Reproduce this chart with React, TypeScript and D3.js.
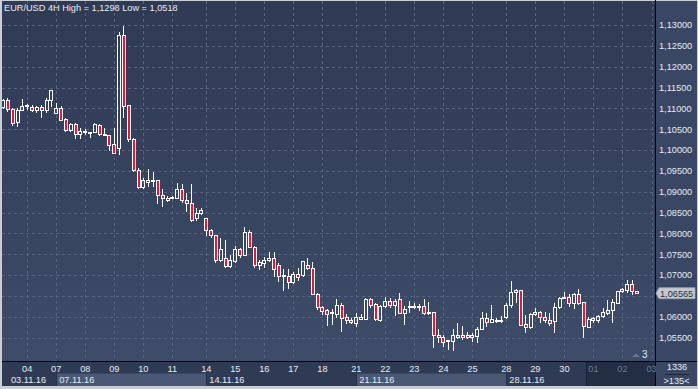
import React from "react";
import * as d3 from "d3";

// ---- data (EUR/USD 4H candles) ----
const opens = [
  1.1102, 1.1118, 1.1098, 1.1066, 1.1095, 1.1106, 1.1103, 1.1095, 1.1102, 1.1094,
  1.1118, 1.1088, 1.11, 1.1074, 1.1046, 1.1062, 1.1038, 1.1044, 1.1042, 1.1042,
  1.106, 1.1038, 1.1034, 1.1014, 1.1004, 1.1276, 1.1106, 1.1026, 1.0952, 1.091,
  1.0923, 1.0926, 1.0926, 1.0892, 1.0878, 1.0884, 1.0884, 1.0906, 1.0878, 1.0872,
  1.0836, 1.0848, 1.0836, 1.0808, 1.0796, 1.0734, 1.074, 1.072, 1.0732, 1.0762,
  1.0748, 1.0802, 1.0766, 1.0724, 1.0728, 1.0736, 1.074, 1.0724, 1.0698, 1.0696,
  1.0682, 1.0702, 1.0698, 1.0724, 1.0716, 1.0654, 1.0622, 1.0614, 1.0609, 1.0606,
  1.0628, 1.0598, 1.0592, 1.0584, 1.0594, 1.0594, 1.0642, 1.063, 1.0592, 1.0624,
  1.0636, 1.0626, 1.0642, 1.0608, 1.0624, 1.0624, 1.0624, 1.0624, 1.061, 1.061,
  1.0556, 1.055, 1.0542, 1.054, 1.055, 1.0556, 1.0556, 1.055, 1.0552, 1.057,
  1.0596, 1.0586, 1.059, 1.059, 1.0598, 1.0628, 1.0658, 1.0662, 1.0582, 1.0574,
  1.0606, 1.061, 1.0598, 1.059, 1.0588, 1.0622, 1.0643, 1.0646, 1.0632, 1.0654,
  1.0634, 1.0574, 1.0596, 1.059, 1.06, 1.0608, 1.0614, 1.0632, 1.066, 1.0664,
  1.0678, 1.066,
];
const highs = [
  1.1122, 1.1126, 1.1102, 1.11, 1.1122, 1.111, 1.1108, 1.1106, 1.1108, 1.1124,
  1.1144, 1.1113, 1.1106, 1.1078, 1.1066, 1.1064, 1.1052, 1.105, 1.1043, 1.1066,
  1.1062, 1.1054, 1.1036, 1.1052, 1.1284, 1.1298, 1.1108, 1.1029, 1.0957, 1.0934,
  1.0954, 1.0948, 1.0928, 1.0906, 1.089, 1.089, 1.0922, 1.0918, 1.0896, 1.0918,
  1.0862, 1.0862, 1.0838, 1.081, 1.0796, 1.0788, 1.0784, 1.0748, 1.077, 1.0764,
  1.0816, 1.0808, 1.077, 1.0736, 1.0744, 1.0756, 1.0756, 1.0728, 1.0714, 1.0714,
  1.0708, 1.0716, 1.0734, 1.0742, 1.0732, 1.0656, 1.0626, 1.0618, 1.0618, 1.0642,
  1.0634, 1.0606, 1.0596, 1.0608, 1.0606, 1.0644, 1.0644, 1.0632, 1.0628, 1.0648,
  1.0644, 1.0642, 1.0656, 1.0626, 1.0638, 1.0632, 1.063, 1.0642, 1.0636, 1.0612,
  1.057, 1.0556, 1.0542, 1.057, 1.0584, 1.0578, 1.0564, 1.056, 1.0576, 1.0612,
  1.0608, 1.0628, 1.0598, 1.0602, 1.0632, 1.0686, 1.0666, 1.0664, 1.0604, 1.0608,
  1.062, 1.0614, 1.0612, 1.0608, 1.0634, 1.0648, 1.066, 1.0654, 1.0656, 1.0666,
  1.0636, 1.06, 1.06, 1.0604, 1.062, 1.064, 1.0642, 1.0662, 1.0668, 1.0688,
  1.0688, 1.0662,
];
const lows = [
  1.1098, 1.1092, 1.1058, 1.1056, 1.1095, 1.1096, 1.1091, 1.1088, 1.1078, 1.1088,
  1.1104, 1.1086, 1.107, 1.1044, 1.1044, 1.1026, 1.1026, 1.1036, 1.1028, 1.104,
  1.1034, 1.1034, 1.0998, 1.099, 1.0988, 1.1078, 1.102, 1.0947, 1.0906, 1.0906,
  1.0912, 1.0912, 1.087, 1.0864, 1.0876, 1.0882, 1.0882, 1.0874, 1.0852, 1.0828,
  1.083, 1.0844, 1.0794, 1.079, 1.0728, 1.0732, 1.0717, 1.0717, 1.073, 1.0742,
  1.0746, 1.0764, 1.0716, 1.0712, 1.0716, 1.0732, 1.0696, 1.0684, 1.0662, 1.0666,
  1.0678, 1.0686, 1.0696, 1.0712, 1.0652, 1.0616, 1.0604, 1.0578, 1.058, 1.0596,
  1.0564, 1.0582, 1.0582, 1.0576, 1.0592, 1.0592, 1.0622, 1.059, 1.0588, 1.062,
  1.062, 1.0602, 1.0606, 1.058, 1.061, 1.0618, 1.0614, 1.0604, 1.0604, 1.0524,
  1.0536, 1.0528, 1.052, 1.0518, 1.0546, 1.0544, 1.0546, 1.054, 1.0536, 1.0568,
  1.0576, 1.0584, 1.0584, 1.0584, 1.0594, 1.062, 1.0632, 1.0578, 1.056, 1.057,
  1.0602, 1.0585, 1.0584, 1.0578, 1.0562, 1.0618, 1.0642, 1.0624, 1.0618, 1.0628,
  1.055, 1.0572, 1.0584, 1.0586, 1.0596, 1.0604, 1.0584, 1.063, 1.0656, 1.0658,
  1.0652, 1.0654,
];
const closes = [
  1.1118, 1.1098, 1.1064, 1.1096, 1.1104, 1.1105, 1.1095, 1.1102, 1.1095, 1.112,
  1.1142, 1.11, 1.1072, 1.1048, 1.1062, 1.1038, 1.1044, 1.1045, 1.1042, 1.1062,
  1.1038, 1.1034, 1.1012, 1.0992, 1.1276, 1.1104, 1.1026, 1.0952, 1.091, 1.0926,
  1.0926, 1.0928, 1.0892, 1.0884, 1.0884, 1.0886, 1.0906, 1.088, 1.0872, 1.083,
  1.0848, 1.0854, 1.0808, 1.0796, 1.0734, 1.0762, 1.072, 1.0734, 1.0762, 1.0748,
  1.0802, 1.0766, 1.0724, 1.073, 1.0736, 1.074, 1.0714, 1.0696, 1.0697, 1.0682,
  1.0702, 1.0694, 1.0732, 1.0716, 1.0654, 1.0622, 1.0612, 1.0606, 1.061, 1.0628,
  1.0596, 1.059, 1.0587, 1.0598, 1.0598, 1.0642, 1.0628, 1.0594, 1.0624, 1.0636,
  1.0626, 1.0636, 1.0608, 1.0618, 1.0625, 1.0624, 1.0625, 1.0608, 1.061, 1.0554,
  1.055, 1.0538, 1.0541, 1.0554, 1.0554, 1.055, 1.055, 1.0554, 1.057, 1.0596,
  1.0586, 1.0594, 1.0591, 1.0591, 1.0628, 1.0658, 1.0662, 1.058, 1.0574, 1.0606,
  1.061, 1.0598, 1.059, 1.0584, 1.0622, 1.0644, 1.0646, 1.0632, 1.0654, 1.0632,
  1.0576, 1.0594, 1.059, 1.06, 1.061, 1.0614, 1.0634, 1.066, 1.0666, 1.0678,
  1.066, 1.06565,
];

const dayLabels = ["04", "07", "08", "09", "10", "11", "14", "15", "16", "17", "18", "21", "22", "23", "24", "25", "28", "29", "30", "01", "02", "03"];
const dayTickIdx = [5, 11, 17, 23, 29, 35, 42, 48, 54, 60, 66, 73, 79, 85, 91, 97, 104, 110, 116, 122, 128, 134];
const weekLabels = ["03.11.16", "07.11.16", "14.11.16", "21.11.16", "28.11.16"];
const weekStartIdx = [-20, 11, 42, 73, 104];
const priceTicks = [1.055, 1.06, 1.065, 1.07, 1.075, 1.08, 1.085, 1.09, 1.095, 1.1, 1.105, 1.11, 1.115, 1.12, 1.125, 1.13];
const lastPrice = 1.06565;
const titleText = "EUR/USD 4H High = 1,1298 Low = 1,0518";
const counterTop = "1336";
const counterBottom = ">135<";
const markerCount = "3";

const FONT = "'Liberation Sans', Arial, sans-serif";

export default function App() {
  const W = 698, H = 389;
  const L = 2, R = 655, T = 1, B = 361;
  const x = d3.scaleLinear().domain([0, 131]).range([3, 637]);
  const y = d3.scaleLinear().domain([1.13, 1.055]).range([25, 337.6]);
  const fmt = (v: number) => d3.format(".5f")(v).replace(".", ",");
  const candles = opens.map((o, i) => ({ i, o, h: highs[i], l: lows[i], c: closes[i] }));
  const weekEnds = weekStartIdx.slice(1).concat([140]);
  const darkStart = x(dayTickIdx[19]) - 7;
  const visibleTicks = priceTicks.filter((p) => Math.abs(y(p) - y(lastPrice)) > 10);

  return (
    <div style={{ position: "fixed", left: 0, top: 0 }}>
      <svg width={W} height={H} style={{ display: "block" }} fontFamily={FONT}>
        <defs>
          <linearGradient id="bg" x1="0" y1="0" x2="0" y2="1">
            <stop offset="0" stopColor="#2f3a54" />
            <stop offset="1" stopColor="#3e4c69" />
          </linearGradient>
          <clipPath id="plotClip">
            <rect x={L} y={T} width={R - L} height={B - T} />
          </clipPath>
        </defs>
        {/* outer frame */}
        <rect x={0} y={0} width={W} height={H} fill="#c9ced6" />
        <rect x={L} y={T} width={W - L - 1} height={386 - T} fill="#34405b" />
        {/* plot bg */}
        <rect x={L} y={T} width={R - L} height={B - T} fill="url(#bg)" />
        {/* right axis bg */}
        <rect x={R} y={T} width={W - 1 - R} height={B - T} fill="#3a4764" />

        {/* grid */}
        <g clipPath="url(#plotClip)" stroke="#55637f" strokeWidth={1} strokeDasharray="3,3" shapeRendering="crispEdges">
          {priceTicks.map((p) => (
            <line key={"h" + p} x1={L} x2={R} y1={Math.round(y(p)) + 0.5} y2={Math.round(y(p)) + 0.5} />
          ))}
          {dayTickIdx.map((d) => (
            <line key={"v" + d} x1={Math.round(x(d)) + 0.5} x2={Math.round(x(d)) + 0.5} y1={T} y2={B} />
          ))}
        </g>

        {/* candles */}
        <g clipPath="url(#plotClip)" shapeRendering="crispEdges">
          {candles.map((d) => {
            const cx = x(d.i);
            const top = y(Math.max(d.o, d.c));
            const bot = y(Math.min(d.o, d.c));
            const bear = d.c < d.o;
            const bh = Math.max(bot - top, 1);
            return (
              <g key={d.i}>
                <line x1={cx} x2={cx} y1={y(d.h)} y2={top} stroke="#ffffff" strokeWidth={1} />
                <line x1={cx} x2={cx} y1={top + bh} y2={y(d.l)} stroke="#ffffff" strokeWidth={1} />
                <rect x={cx - 1.5} y={top} width={3} height={bh} fill={bear ? "#e0183c" : "none"} stroke="#ffffff" strokeWidth={1} />
              </g>
            );
          })}
        </g>

        {/* title */}
        <text x={4} y={11} fontSize={9.2} fill="#e8edf4">{titleText}</text>

        {/* marker */}
        <path d={`M${x(131) - 5},357 L${x(131) - 1},353.5 L${x(131) + 3},357 Z`} fill="#6d7891" />
        <text x={x(131) + 5} y={358} fontSize={10} fill="#dfe8f5">{markerCount}</text>

        {/* right axis */}
        <line x1={R + 0.5} x2={R + 0.5} y1={0} y2={386} stroke="#000" strokeWidth={1} />
        {visibleTicks.map((p) => (
          <text key={"t" + p} x={659} y={y(p) + 3.3} fontSize={9.2} fill="#e6ebf2">{fmt(p)}</text>
        ))}
        {/* last price label */}
        <path
          d={`M${R + 1},${y(lastPrice)} L${R + 4},${y(lastPrice) - 5.5} L${W - 3},${y(lastPrice) - 5.5} L${W - 3},${y(lastPrice) + 5.5} L${R + 4},${y(lastPrice) + 5.5} Z`}
          fill="#c3c8d1"
          stroke="#9aa2b0"
          strokeWidth={0.8}
        />
        <text x={660} y={y(lastPrice) + 3.3} fontSize={9.2} fill="#2b2f38">{fmt(lastPrice)}</text>

        {/* date axis */}
        <rect x={L} y={B} width={R - L} height={386 - B} fill="#2f3b55" />
        {weekStartIdx.map((w, k) =>
          k % 2 === 1 ? (
            <rect key={"wb" + k} x={x(w)} y={373.5} width={x(weekEnds[k]) - x(w)} height={386 - 373.5} fill="#4a5875" />
          ) : null
        )}
        <rect x={darkStart} y={B} width={R - darkStart} height={386 - B} fill="#232d44" />
        <line x1={darkStart} x2={darkStart} y1={B} y2={386} stroke="#1a2236" strokeWidth={1} />
        {weekStartIdx.slice(1).map((w, k) => (
          <line key={"ws" + k} x1={Math.round(x(w)) + 0.5} x2={Math.round(x(w)) + 0.5} y1={B} y2={386} stroke="#283349" strokeWidth={1} />
        ))}
        {dayLabels.map((lab, k) => (
          <text
            key={"d" + k}
            x={x(dayTickIdx[k])}
            y={371.5}
            fontSize={9.2}
            textAnchor="middle"
            fill={x(dayTickIdx[k]) > darkStart ? "#6b7b96" : "#e6ebf2"}
          >
            {lab}
          </text>
        ))}
        {weekLabels.map((lab, k) => (
          <text key={"w" + k} x={Math.max(x(weekStartIdx[k]) + 3, 11)} y={383} fontSize={9.2} fill="#e6ebf2">
            {lab}
          </text>
        ))}
        <line x1={L} x2={W - 1} y1={B + 0.5} y2={B + 0.5} stroke="#000" strokeWidth={1} />

        {/* bottom right counter */}
        <rect x={R + 1} y={B + 1} width={W - 2 - R} height={386 - B - 1} fill="#3a4764" />
        <text x={677} y={369.5} fontSize={9.2} textAnchor="middle" fill="#e6ebf2">{counterTop}</text>
        <line x1={665} x2={690} y1={374.5} y2={374.5} stroke="#1e2638" strokeWidth={1} />
        <text x={676.5} y={384} fontSize={9.2} textAnchor="middle" fill="#e6ebf2">{counterBottom}</text>
      </svg>
    </div>
  );
}
